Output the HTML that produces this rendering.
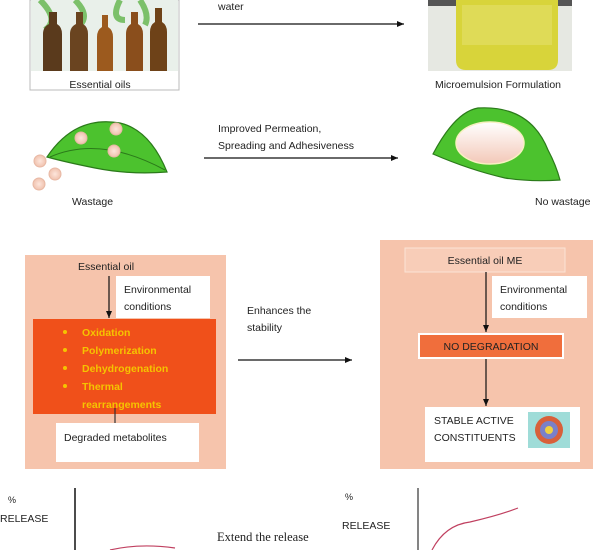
<!DOCTYPE html>
<html><head><meta charset="utf-8"><style>
body{margin:0;background:#fff;width:600px;height:550px;overflow:hidden}
svg{display:block}
text{font-family:"Liberation Sans",sans-serif;font-size:10.5px;fill:#222}
</style></head><body>
<svg width="600" height="550" viewBox="0 0 600 550">
<defs>
<linearGradient id="pk" x1="0" y1="0" x2="0" y2="1"><stop offset="0" stop-color="#fff"/><stop offset="1" stop-color="#f3c8b8"/></linearGradient>
<radialGradient id="dot"><stop offset="0" stop-color="#fde6dc"/><stop offset="1" stop-color="#f0c2ae"/></radialGradient>
<marker id="ar" markerWidth="8" markerHeight="8" refX="7" refY="4" orient="auto" markerUnits="userSpaceOnUse"><path d="M0,1 L7,4 L0,7z" fill="#111"/></marker>
</defs>
<!-- essential oils photo -->
<rect x="30" y="0" width="149" height="90" fill="#fff" stroke="#bbb"/>
<rect x="31" y="0" width="147" height="71" fill="#e9f0ea"/>
<path d="M40,0 Q60,20 45,30 M75,0 Q90,15 80,25 M120,0 Q110,20 125,20 M140,0 Q150,15 145,25" stroke="#7cc06a" stroke-width="6" fill="none"/>
<g fill="#5a3a1c">
<path d="M49,12h8v12q5,3 5,10v37h-19v-37q0-7 6-10z"/>
<path d="M76,12h7v12q5,3 5,10v37h-18v-37q0-7 6-10z" fill="#6a4420"/>
<path d="M102,15h6v12q5,3 5,10v34h-16v-34q0-7 5-10z" fill="#9c5a1e"/>
<path d="M131,12h7v12q5,3 5,10v37h-17v-37q0-7 5-10z" fill="#8a4e1c"/>
<path d="M155,8h7v14q5,3 5,10v39h-17v-39q0-7 5-10z" fill="#6e4218"/>
</g>
<text x="100" y="88" text-anchor="middle">Essential oils</text>
<!-- beaker -->
<rect x="428" y="0" width="144" height="71" fill="#e6e8e2"/>
<rect x="428" y="0" width="144" height="6" fill="#555"/>
<path d="M456,0h102v60q0,10 -10,10h-82q-10,0 -10,-10z" fill="#d8d43a"/>
<path d="M462,5h90v40h-90z" fill="#e4e06a" opacity=".6"/>
<text x="498" y="88" text-anchor="middle">Microemulsion Formulation</text>
<!-- top arrow -->
<text x="218" y="10">water</text>
<line x1="198" y1="24" x2="404" y2="24" stroke="#111" stroke-width="1.2" marker-end="url(#ar)"/>
<!-- left leaf -->
<path d="M47,157 Q75,115 120,123 Q150,130 167,172 Q130,175 95,168 Q65,162 47,157z" fill="#4cc22e" stroke="#2b7a1a" stroke-width="1.2"/>
<path d="M50,157 Q100,135 165,170" stroke="#2b7a1a" fill="none"/>
<g fill="url(#dot)" stroke="#e8b8a4"><circle cx="81" cy="138" r="6"/><circle cx="116" cy="129" r="6"/><circle cx="114" cy="151" r="6"/><circle cx="40" cy="161" r="6"/><circle cx="55" cy="174" r="6"/><circle cx="39" cy="184" r="6"/></g>
<text x="72" y="205">Wastage</text>
<!-- middle arrow -->
<text x="218" y="132">Improved Permeation,</text>
<text x="218" y="149">Spreading and Adhesiveness</text>
<line x1="204" y1="158" x2="398" y2="158" stroke="#111" stroke-width="1.2" marker-end="url(#ar)"/>
<!-- right leaf -->
<path d="M433,154 Q455,112 478,108 Q530,105 548,150 Q556,165 560,180 Q530,182 505,178 Q470,170 433,154z" fill="#4cc22e" stroke="#2b7a1a" stroke-width="1.2"/>
<ellipse cx="490" cy="143" rx="34" ry="21" fill="url(#pk)" stroke="#f7f0c0" stroke-width="1.5"/>
<text x="535" y="205">No wastage</text>
<!-- left panel -->
<rect x="25" y="255" width="201" height="214" fill="#f6c4ac"/>
<text x="78" y="270">Essential oil</text>
<rect x="116" y="276" width="94" height="42" fill="#fff"/>
<text x="124" y="293">Environmental</text>
<text x="124" y="310">conditions</text>
<line x1="109" y1="276" x2="109" y2="318" stroke="#111" stroke-width="1.2" marker-end="url(#ar)"/>
<rect x="33" y="319" width="183" height="95" fill="#f0501a"/>
<g fill="#f5c400"><circle cx="65" cy="332" r="2"/><circle cx="65" cy="350" r="2"/><circle cx="65" cy="368" r="2"/><circle cx="65" cy="386" r="2"/></g>
<g style="font-weight:bold"><text x="82" y="336" style="fill:#f5c400">Oxidation</text><text x="82" y="354" style="fill:#f5c400">Polymerization</text><text x="82" y="372" style="fill:#f5c400">Dehydrogenation</text><text x="82" y="390" style="fill:#f5c400">Thermal</text><text x="82" y="408" style="fill:#f5c400">rearrangements</text></g>
<line x1="115" y1="408" x2="115" y2="423" stroke="#333" stroke-width="1.2"/>
<rect x="56" y="423" width="143" height="39" fill="#fff"/>
<text x="64" y="441">Degraded metabolites</text>
<!-- center arrow -->
<text x="247" y="314">Enhances the</text>
<text x="247" y="331">stability</text>
<line x1="238" y1="360" x2="352" y2="360" stroke="#111" stroke-width="1.2" marker-end="url(#ar)"/>
<!-- right panel -->
<rect x="380" y="240" width="213" height="229" fill="#f6c4ac"/>
<rect x="405" y="248" width="160" height="24" fill="#f8cdb8" stroke="#fbe4d6"/>
<text x="485" y="264" text-anchor="middle">Essential oil ME</text>
<rect x="492" y="276" width="95" height="42" fill="#fff"/>
<text x="500" y="293">Environmental</text>
<text x="500" y="310">conditions</text>
<line x1="486" y1="272" x2="486" y2="332" stroke="#111" stroke-width="1.2" marker-end="url(#ar)"/>
<rect x="418" y="333" width="146" height="26" fill="#fff"/>
<rect x="420" y="335" width="142" height="22" fill="#f06e3c"/>
<text x="491" y="350" text-anchor="middle">NO DEGRADATION</text>
<line x1="486" y1="359" x2="486" y2="406" stroke="#111" stroke-width="1.2" marker-end="url(#ar)"/>
<rect x="425" y="407" width="155" height="55" fill="#fff"/>
<text x="434" y="424">STABLE ACTIVE</text>
<text x="434" y="441">CONSTITUENTS</text>
<rect x="528" y="412" width="42" height="36" fill="#9fdcd8"/>
<circle cx="549" cy="430" r="14" fill="#d8603a"/>
<circle cx="549" cy="430" r="9" fill="#7a80c8"/>
<circle cx="549" cy="430" r="4" fill="#f0d040"/>
<!-- bottom -->
<line x1="75" y1="488" x2="75" y2="550" stroke="#111" stroke-width="1.5"/>
<line x1="418" y1="488" x2="418" y2="550" stroke="#333" stroke-width="1.2"/>
<text x="8" y="503" style="font-size:9px">%</text>
<text x="0" y="522">RELEASE</text>
<text x="345" y="500" style="font-size:9px">%</text>
<text x="342" y="529">RELEASE</text>
<text x="217" y="541" style="font-family:'Liberation Serif',serif;font-size:12.5px">Extend the release</text>
<path d="M110,550 Q140,543 175,548" stroke="#c04060" fill="none" stroke-width="1.2"/>
<path d="M432,550 Q445,525 470,522 Q500,515 518,508" stroke="#c04060" fill="none" stroke-width="1.2"/>
</svg>
</body></html>
